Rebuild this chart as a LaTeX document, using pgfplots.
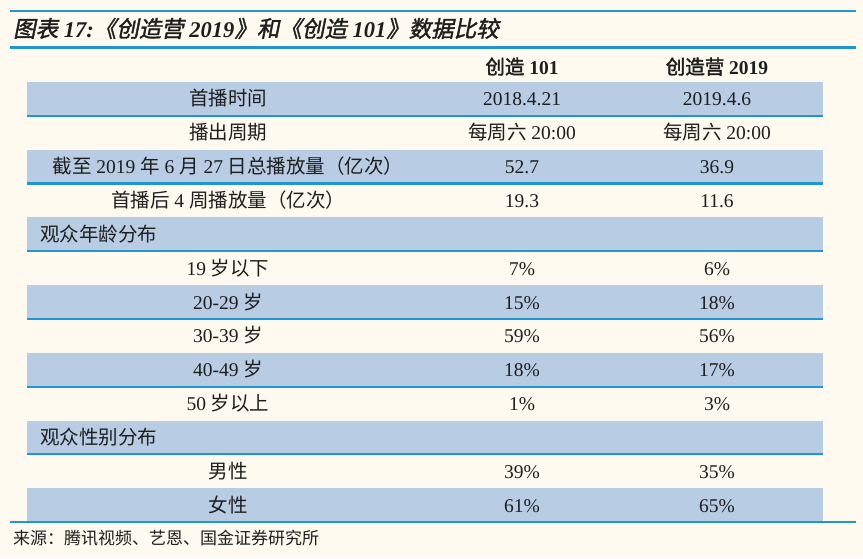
\documentclass[border=0pt]{standalone}
\usepackage{fontspec}
\usepackage{pgfplots}
\pgfplotsset{compat=1.18}
\setmainfont{Liberation Serif}
\newfontfamily\cjk{Noto Sans CJK SC}
\newfontfamily\cjkb{Noto Sans CJK SC}[FakeBold=2.2]
\newfontfamily\cjkt{Noto Sans CJK SC}[FakeSlant=0.2,FakeBold=1.6]
\newcommand\zh[1]{{\cjk #1}}
\newcommand\zhb[1]{{\cjkb #1}}
\newcommand\zht[1]{{\cjkt #1}}
\definecolor{bg}{HTML}{FEFAEF}
\definecolor{band}{HTML}{B8CCE4}
\definecolor{rule}{HTML}{2196D3}
\definecolor{ink}{HTML}{1E1E1E}
\tikzset{cell/.style={text=ink, font=\fontsize{19.5}{22}\selectfont, inner sep=0pt, anchor=base}}
\begin{document}
\begin{tikzpicture}
\begin{axis}[scale only axis, width=863pt, height=558pt,
  xmin=0, xmax=863, ymin=0, ymax=558, y dir=reverse,
  axis lines=none, clip=false]
% background
\addplot[fill=bg, draw=none] coordinates {(0,0) (863,0) (863,558) (0,558)} -- cycle;
% striped rows
\addplot[fill=band, draw=none] coordinates {(27,82) (823,82) (823,115.85) (27,115.85)} -- cycle;
\addplot[fill=band, draw=none] coordinates {(27,149.7) (823,149.7) (823,183.55) (27,183.55)} -- cycle;
\addplot[fill=band, draw=none] coordinates {(27,217.4) (823,217.4) (823,251.25) (27,251.25)} -- cycle;
\addplot[fill=band, draw=none] coordinates {(27,285.1) (823,285.1) (823,318.95) (27,318.95)} -- cycle;
\addplot[fill=band, draw=none] coordinates {(27,352.8) (823,352.8) (823,386.65) (27,386.65)} -- cycle;
\addplot[fill=band, draw=none] coordinates {(27,420.5) (823,420.5) (823,454.35) (27,454.35)} -- cycle;
\addplot[fill=band, draw=none] coordinates {(27,488.2) (823,488.2) (823,521.5) (27,521.5)} -- cycle;
% rules
\addplot[rule, line width=2pt] coordinates {(10,11) (856,11)};
\addplot[rule, line width=3pt] coordinates {(10,47.5) (856,47.5)};
\addplot[rule, line width=2.2pt] coordinates {(27,115.85) (823,115.85)};
\addplot[rule, line width=2.2pt] coordinates {(27,183.55) (823,183.55)};
\addplot[rule, line width=2.2pt] coordinates {(27,251.25) (823,251.25)};
\addplot[rule, line width=2.2pt] coordinates {(27,318.95) (823,318.95)};
\addplot[rule, line width=2.2pt] coordinates {(27,386.65) (823,386.65)};
\addplot[rule, line width=2.2pt] coordinates {(27,454.35) (823,454.35)};
\addplot[rule, line width=2.2pt] coordinates {(10,522) (856,522)};
% title
\node[cell, anchor=base west, font=\fontsize{22.5}{26}\selectfont] at (axis cs:13,37)
  {\zht{图表} \textbf{\textit{17:}}\zht{《创造营} \textbf{\textit{2019}}\zht{》和《创造} \textbf{\textit{101}}\zht{》数据比较}};
% header
\node[cell] at (axis cs:522,74) {\zhb{创造} \textbf{101}};
\node[cell] at (axis cs:717,74) {\zhb{创造营} \textbf{2019}};
% row labels (base = row centre + 7)
\node[cell] at (axis cs:228,105.9) {\zh{首播时间}};
\node[cell] at (axis cs:228,139.8) {\zh{播出周期}};
\node[cell] at (axis cs:228,173.6) {\zh{截至} 2019 \zh{年} 6 \zh{月} 27 \zh{日总播放量（亿次）}};
\node[cell] at (axis cs:228,207.5) {\zh{首播后} 4 \zh{周播放量（亿次）}};
\node[cell, anchor=base west] at (axis cs:40,241.3) {\zh{观众年龄分布}};
\node[cell] at (axis cs:228,275.2) {19 \zh{岁以下}};
\node[cell] at (axis cs:228,309.0) {20-29 \zh{岁}};
\node[cell] at (axis cs:228,342.9) {30-39 \zh{岁}};
\node[cell] at (axis cs:228,376.7) {40-49 \zh{岁}};
\node[cell] at (axis cs:228,410.6) {50 \zh{岁以上}};
\node[cell, anchor=base west] at (axis cs:40,444.4) {\zh{观众性别分布}};
\node[cell] at (axis cs:228,478.3) {\zh{男性}};
\node[cell] at (axis cs:228,512.0) {\zh{女性}};
% column: 创造101
\node[cell] at (axis cs:522,105.9) {2018.4.21};
\node[cell] at (axis cs:522,139.8) {\zh{每周六} 20:00};
\node[cell] at (axis cs:522,173.6) {52.7};
\node[cell] at (axis cs:522,207.5) {19.3};
\node[cell] at (axis cs:522,275.2) {7\%};
\node[cell] at (axis cs:522,309.0) {15\%};
\node[cell] at (axis cs:522,342.9) {59\%};
\node[cell] at (axis cs:522,376.7) {18\%};
\node[cell] at (axis cs:522,410.6) {1\%};
\node[cell] at (axis cs:522,478.3) {39\%};
\node[cell] at (axis cs:522,512.0) {61\%};
% column: 创造营2019
\node[cell] at (axis cs:717,105.9) {2019.4.6};
\node[cell] at (axis cs:717,139.8) {\zh{每周六} 20:00};
\node[cell] at (axis cs:717,173.6) {36.9};
\node[cell] at (axis cs:717,207.5) {11.6};
\node[cell] at (axis cs:717,275.2) {6\%};
\node[cell] at (axis cs:717,309.0) {18\%};
\node[cell] at (axis cs:717,342.9) {56\%};
\node[cell] at (axis cs:717,376.7) {17\%};
\node[cell] at (axis cs:717,410.6) {3\%};
\node[cell] at (axis cs:717,478.3) {35\%};
\node[cell] at (axis cs:717,512.0) {65\%};
% source
\node[cell, anchor=base west, font=\fontsize{17}{20}\selectfont] at (axis cs:13,544) {\zh{来源：腾讯视频、艺恩、国金证券研究所}};
\end{axis}
\end{tikzpicture}
\end{document}
